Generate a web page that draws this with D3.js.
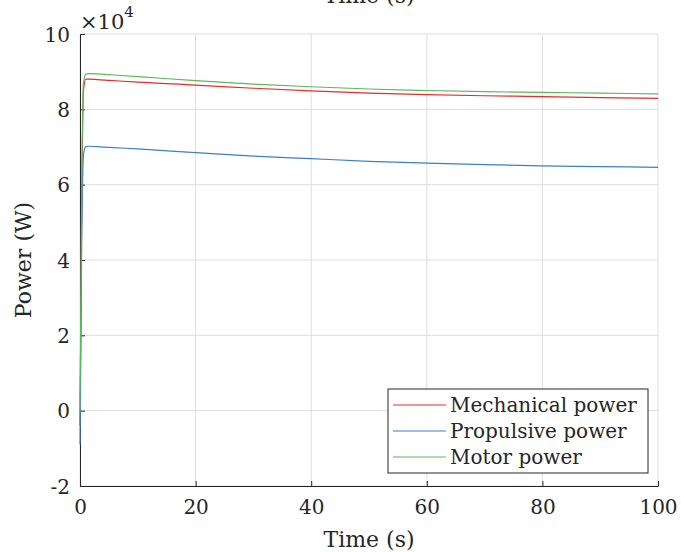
<!DOCTYPE html>
<html>
<head>
<meta charset="utf-8">
<script src="https://cdn.jsdelivr.net/npm/d3@7"></script>
<style>
  body { margin: 0; background: #fff; }
</style>
</head>
<body>
<svg id="chart"></svg>
<script>
// time samples (s)
const timeS = [0, 0.3, 0.6, 1, 1.5, 3, 5, 10, 20, 30, 40, 50, 60, 70, 80, 90, 100];
// power series (W)
const mechanicalPower = [-4000, 55000, 85000, 88000, 88000, 87900, 87700, 87200, 86450, 85600, 84900, 84300, 83900, 83600, 83400, 83100, 82900];
const propulsivePower = [-9000, 45000, 68000, 70100, 70200, 70100, 69900, 69500, 68500, 67600, 66900, 66200, 65700, 65300, 65000, 64800, 64600];
const motorPower = [0, 60000, 87000, 89300, 89500, 89400, 89200, 88700, 87600, 86700, 86000, 85400, 85000, 84700, 84500, 84300, 84100];

const seriesNames = ['Mechanical power', 'Propulsive power', 'Motor power'];
const seriesColors = ['#f0282c', '#3b7fcc', '#5cb85c'];
const seriesValues = [mechanicalPower, propulsivePower, motorPower];

const xTicks = [0, 20, 40, 60, 80, 100];
const yTicks = [-20000, 0, 20000, 40000, 60000, 80000, 100000];

const serif = '"DejaVu Serif", serif';

let width = 681, height = 552;
let margin = {left: 80, right: 23, top: 34, bottom: 66};

let svg = d3.select('#chart')
            .attr('width', width)
            .attr('height', height)
            .style('font-family', serif);

let x = d3.scaleLinear()
          .domain([0, 100])
          .range([margin.left, width - margin.right]);
let y = d3.scaleLinear()
          .domain([-20000, 100000])
          .range([height - margin.bottom, margin.top]);

// grid
let grid = svg.append('g').attr('stroke', '#dedede').attr('stroke-width', 1);
grid.selectAll('line.v')
    .data(xTicks)
    .enter()
    .append('line')
    .attr('x1', d => x(d)).attr('x2', d => x(d))
    .attr('y1', y.range()[0]).attr('y2', y.range()[1]);
grid.selectAll('line.h')
    .data(yTicks)
    .enter()
    .append('line')
    .attr('x1', x.range()[0]).attr('x2', x.range()[1])
    .attr('y1', d => y(d)).attr('y2', d => y(d));

// axes (ticks point inward)
let xAxis = svg.append('g')
               .attr('transform', `translate(0,${y(-20000)})`)
               .call(d3.axisBottom(x).tickValues(xTicks).tickSizeInner(-5).tickSizeOuter(0).tickPadding(14));
let yAxis = svg.append('g')
               .attr('transform', `translate(${x(0)},0)`)
               .call(d3.axisLeft(y).tickValues(yTicks).tickFormat(d => d / 10000).tickSizeInner(-5).tickSizeOuter(0).tickPadding(10));

[xAxis, yAxis].forEach(a => {
  a.attr('font-family', null).attr('font-size', null);
  a.select('.domain').attr('stroke', '#262626');
  a.selectAll('.tick line').attr('stroke', '#262626');
  a.selectAll('.tick text')
   .style('font-family', serif)
   .style('font-size', '20px')
   .attr('fill', '#262626');
});
xAxis.selectAll('.tick text').attr('dy', '0.71em');
yAxis.selectAll('.tick text').attr('dy', '0.35em');

// lines
let line = d3.line()
             .x((d, i) => x(timeS[i]))
             .y(d => y(d))
             .curve(d3.curveMonotoneX);

svg.append('g')
   .selectAll('path')
   .data(seriesValues)
   .enter()
   .append('path')
   .attr('d', d => line(d))
   .attr('fill', 'none')
   .attr('stroke', (d, i) => seriesColors[i])
   .attr('stroke-width', 1.2);

function label(txt, size) {
  return svg.append('text')
            .style('font-family', serif)
            .style('font-size', size)
            .attr('fill', '#262626')
            .text(txt);
}

// labels
label('Time (s)', '22px')
   .attr('x', (x(0) + x(100)) / 2)
   .attr('y', 547)
   .attr('text-anchor', 'middle');

// duplicate title clipped at the top edge, as in the source figure
label('Time (s)', '22px')
   .attr('x', (x(0) + x(100)) / 2)
   .attr('y', 3)
   .attr('text-anchor', 'middle');

label('Power (W)', '22px')
   .attr('transform', `translate(31,${(y(-20000) + y(100000)) / 2}) rotate(-90)`)
   .attr('text-anchor', 'middle');

// exponent label
let expo = label('', '21px')
   .attr('x', 80)
   .attr('y', 29);
expo.append('tspan').text('×10');
expo.append('tspan').attr('dy', -12).style('font-size', '15px').text('4');

// legend
let legend = svg.append('g').attr('transform', 'translate(388,389)');
legend.append('rect')
      .attr('width', 260).attr('height', 84)
      .attr('fill', '#fff')
      .attr('stroke', '#262626')
      .attr('stroke-width', 1);
let rows = legend.selectAll('g.row')
                 .data(seriesNames)
                 .enter()
                 .append('g')
                 .attr('transform', (d, i) => `translate(0,${16 + i * 26})`);
rows.append('line')
    .attr('x1', 5).attr('x2', 58)
    .attr('stroke', (d, i) => seriesColors[i])
    .attr('stroke-width', 1.2);
rows.append('text')
    .attr('x', 62)
    .attr('dy', '0.35em')
    .style('font-family', serif)
    .style('font-size', '20px')
    .attr('fill', '#262626')
    .text(d => d);
</script>
</body>
</html>
